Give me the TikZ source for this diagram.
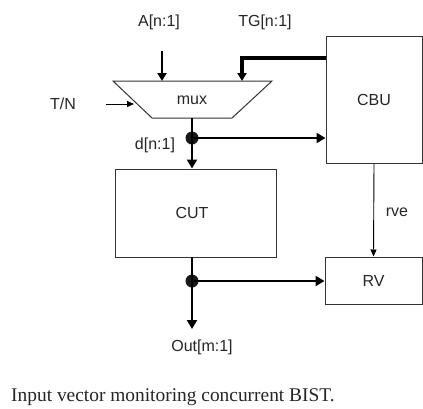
\documentclass[tikz,border=0pt]{standalone}
\usepackage{fontspec}
\setmainfont{Liberation Serif}
\setsansfont{Liberation Sans}
\usetikzlibrary{arrows.meta}
\begin{document}
\begin{tikzpicture}[x=1pt,y=-1pt,
  box/.style={draw=black!80, line width=1pt, inner sep=0pt, font=\sffamily\fontsize{16}{18}\selectfont, text=black!85},
  lbl/.style={font=\sffamily\fontsize{16}{18}\selectfont, text=black!85, inner sep=0pt},
  bus/.style={line width=2.6pt, -{Triangle[length=9pt,width=10pt]}},
  busline/.style={line width=2.6pt},
  sig/.style={line width=0.9pt, -{Triangle[length=7pt,width=6pt]}},
  jdot/.style={circle, fill=black!90, inner sep=0pt, minimum size=13pt}]
\path[use as bounding box, fill=white] (0,0) rectangle (423,408);
% boxes
\node[box, minimum width=96pt, minimum height=127pt] (cbu) at (374,99.5) {CBU};
\node[box, minimum width=161pt, minimum height=88pt] (cut) at (195.5,213) {};
\node[lbl] (cutl) at (192,213) {CUT};
\node[box, minimum width=97pt, minimum height=47pt] (rv) at (373.5,280.5) {RV};
% mux
\coordinate (m1) at (113,81);
\coordinate (m2) at (272,81);
\coordinate (m3) at (232,118);
\coordinate (m4) at (152,118);
\draw[draw=black!80, line width=1pt] (m1) -- (m2) -- (m3) -- (m4) -- cycle;
\node[lbl] (mux) at (192,100) {mux};
% labels
\node[lbl] (alab) at (159,22) {A[n:1]};
\node[lbl] (tglab) at (265,22) {TG[n:1]};
\node[lbl] (tnlab) at (63,104) {T/N};
\node[lbl] (dlab) at (155,145) {d[n:1]};
\node[lbl] (rvelab) at (397,212) {rve};
\node[lbl] (outlab) at (202,347) {Out[m:1]};
% A input
\coordinate (ain) at (162,51);
\draw[line width=2pt, -{Triangle[length=8pt,width=9pt]}] (ain) -- (162,81);
% TG feedback
\draw[line width=3.4pt, -{Triangle[length=8pt,width=9pt]}] (cbu.west |- 0,58) -| (242,81);
% T/N
\coordinate (tnin) at (106,104);
\draw[sig] (tnin) -- (134,104);
% mux output
\coordinate (mo) at (192,118);
\node[jdot] (d1) at (192,138) {};
\draw[busline] (mo) -- (d1.center);
\draw[bus] (d1.center) -- (d1 |- cut.north);
\draw[bus] (d1.center) -- (d1 -| cbu.west);
% rve
\draw[sig] (cbu.south) -- (rv.north);
% CUT output
\coordinate (co) at (192,257);
\node[jdot] (d2) at (192,281) {};
\draw[busline] (co) -- (d2.center);
\coordinate (oend) at (192,329);
\draw[bus] (d2.center) -- (oend);
\draw[bus] (d2.center) -- (d2 -| rv.west);
% caption
\node[anchor=west, inner sep=0pt, font=\fontsize{19.4}{22}\selectfont, text=black!85] (cap) at (11,397) {Input vector monitoring concurrent BIST.};
\end{tikzpicture}
\end{document}
